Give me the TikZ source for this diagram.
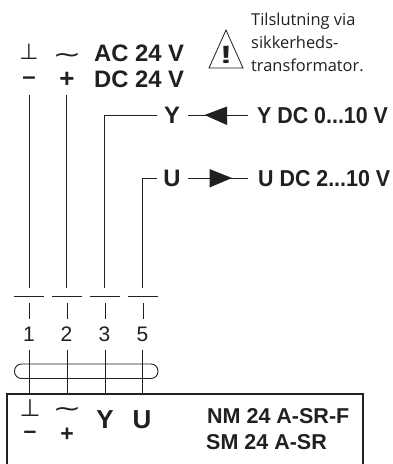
\documentclass[tikz,border=0pt]{standalone}
\usepackage{fontspec}
\setmainfont{Liberation Sans}
\newfontfamily\notefont{Open Sans}
\newfontfamily\symfont{DejaVu Sans}
\newfontfamily\widesym[FakeStretch=1.5]{DejaVu Sans}
\newfontfamily\condfont[FakeStretch=0.93]{Liberation Sans Bold}
\newfontfamily\wideex[FakeStretch=1.5]{Liberation Sans Bold}
\definecolor{ink}{HTML}{231F20}
\tikzset{
  lbl/.style={inner sep=0pt,text=ink,font=\fontsize{#1}{#1}\selectfont\bfseries},
  cond/.style={inner sep=0pt,text=ink,anchor=base west,font=\fontsize{23}{23}\condfont},
  num/.style={inner sep=0pt,text=ink,font=\fontsize{21}{21}\selectfont},
  sym/.style={inner sep=0pt,text=ink,font=\fontsize{#1}{#1}\symfont},
  tilde/.style={inner sep=0pt,text=ink,font=\fontsize{23}{23}\widesym},
  note/.style={inner sep=0pt,anchor=base west,text=ink,font=\fontsize{16.4}{16.4}\notefont},
  wire/.style={draw=ink,line width=0.9pt},
  box/.style={draw=ink,line width=2pt},
  tip/.style={fill=ink,draw=none}
}
\begin{document}
\begin{tikzpicture}[x=1pt,y=-1pt]
\useasboundingbox (0,0) rectangle (392,464);
\fill[white] (0,0) rectangle (392,464);
% top symbols and labels
\node[sym=22] (gnd) at (29,51.5) {⊥};
\node[tilde] (ac) at (67,58) {∼};
\node[lbl=23.8,anchor=base west] (aclbl) at (94,61.5) {AC 24 V};
\node[lbl=23.8,anchor=base west] (dclbl) at (94,87.5) {DC 24 V};
\node[lbl=24] (minus) at (29,81) {–};
\node[lbl=26] (plus) at (67,80) {+};
% note and warning triangle
\node[note] (n1) at (251,25) {Tilslutning via};
\node[note] (n2) at (251,48) {sikkerheds-};
\node[note] (n3) at (251,71) {transformator.};
\coordinate (ta) at (226,30);
\coordinate (tb) at (209,68);
\coordinate (tc) at (243,68);
\draw[draw=ink,line width=0.8pt,line join=miter] (ta) -- (tb) -- (tc) -- cycle;
\node[inner sep=0pt,text=ink,font=\fontsize{25}{25}\wideex] (ex) at (226,54.5) {!};
% Y and U
\node[lbl=23.8] (ysig) at (172,115.5) {Y};
\node[lbl=23.8] (usig) at (172,178) {U};
\node[cond] (ylbl) at (257,123.5) {Y DC 0...10 V};
\node[cond] (ulbl) at (258,186) {U DC 2...10 V};
\coordinate (yl) at (188,115); \coordinate (yr) at (248,115);
\coordinate (ul) at (188,178); \coordinate (ur) at (248,178);
\draw[wire] (yl) -- (yr);
\draw[wire] (ul) -- (ur);
\fill[tip] (204.5,115) -- (227,106.5) -- (227,125) -- cycle;
\fill[tip] (232,178) -- (209.5,169) -- (209.5,187.5) -- cycle;
% bars
\coordinate (w1a) at (29,95); \coordinate (w2a) at (66.5,95);
\coordinate (w3a) at (104,115); \coordinate (w4a) at (142,178);
\coordinate (w3t) at (157,115); \coordinate (w4t) at (157,178);
\coordinate (w1b) at (29,288); \coordinate (w2b) at (66.5,288);
\coordinate (w3b) at (104,288); \coordinate (w4b) at (142,288);
\draw[wire] (w1a) -- (w1b);
\draw[wire] (w2a) -- (w2b);
\draw[wire] (w3t) -- (w3a) -- (w3b);
\draw[wire] (w4t) -- (w4a) -- (w4b);
\foreach \l/\r in {14/44,52/82,90/120,128/158}
  \draw[wire] (\l,296) -- (\r,296);
\foreach \x in {29.5,67,105,143}
  \draw[wire] (\x,303) -- (\x,319);
\node[num] (t1) at (29,334) {1};
\node[num] (t2) at (66.5,334) {2};
\node[num] (t3) at (104.5,334) {3};
\node[num] (t5) at (142.5,334) {5};
% capsule
\draw[wire,rounded corners=7pt] (14.5,364) rectangle (158,378.5);
% box
\draw[box] (363,464) -- (363,394) -- (7,394) -- (7,464);
\foreach \x in {29.5,67.5,105.5,142.5}
  \draw[wire] (\x,350) -- (\x,393);
\node[sym=24] (bgnd) at (30,408) {⊥};
\node[tilde] (bac) at (67,412) {∼};
\node[lbl=23] (bminus) at (30,435) {–};
\node[lbl=23] (bplus) at (67,434.5) {+};
\node[lbl=26] (by) at (105,420) {Y};
\node[lbl=26] (bu) at (142,420) {U};
\node[lbl=21.5,anchor=base west] (m1) at (207,423) {NM 24 A-SR-F};
\node[lbl=21.5,anchor=base west] (m2) at (206,449) {SM 24 A-SR};
\end{tikzpicture}
\end{document}
